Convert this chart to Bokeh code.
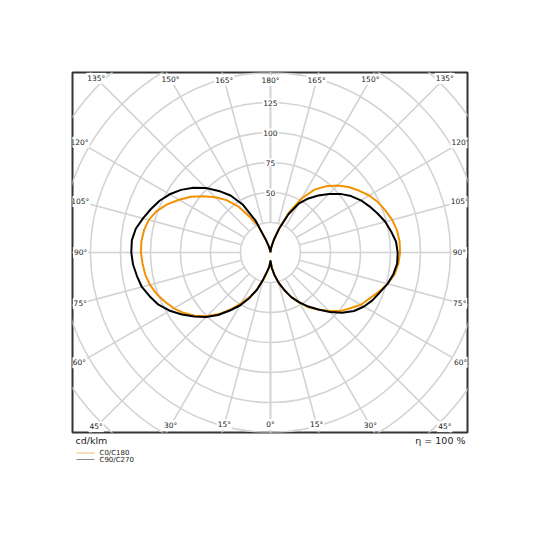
import numpy as np
from bokeh.plotting import figure
from bokeh.models import Range1d
from bokeh.embed import file_html
from bokeh.resources import INLINE
from bokeh.core.properties import value

# ---------------- data ----------------
gamma = [0, 5, 10, 15, 20, 25, 30, 35, 40, 45, 50, 55, 60, 65, 70, 75, 80, 85, 90,
         95, 100, 105, 110, 115, 120, 125, 130, 135, 140, 145, 150, 155, 160, 165, 170, 175, 180]

# C0 (right half of orange curve)
c0 = [7, 13, 19, 26, 33, 41, 48, 56, 62, 69, 76, 81, 87, 91, 96, 101, 105, 107, 108,
      108, 107, 105, 102, 99, 95, 90, 85, 79, 72, 64, 52, 37, 22, 12, 5, 2, 0]
# C180 (left half of orange curve)
c180 = [7, 12, 17, 24, 33, 41, 49, 58, 67, 75, 82, 88, 93, 97, 101, 104, 106, 107, 108,
        108, 107, 105, 101, 95, 88, 81, 73, 65, 57, 47, 34, 25, 12, 5, 2, 1, 0]
# C90 (right half of black curve)
c90 = [7, 13, 19, 26, 33, 41, 48, 55, 62, 70, 78, 85, 90, 94, 97, 101, 104, 106, 106,
       105, 102, 99, 95, 91, 87, 82, 76, 69, 62, 55, 47, 35, 21, 11, 5, 2, 0]
# C270 (left half of black curve)
c270 = [7, 12, 16, 23, 33, 42, 51, 59, 68, 76, 83, 90, 97, 103, 107, 111, 113, 115, 116,
        116, 114, 110, 106, 102, 97, 91, 84, 76, 67, 58, 46, 29, 11, 5, 2, 1, 0]

ring_values = [25, 50, 75, 100, 125, 150, 175, 200]
ring_label_values = [50, 75, 100, 125]
angle_ticks = [0, 15, 30, 45, 60, 75, 90, 105, 120, 135, 150, 165, 180]
series_names = ["C0/C180", "C90/C270"]
series_colors = ["#f39200", "#000000"]
unit_text = "cd/klm"
eta_text = "η = 100 %"

# ---------------- styles ----------------
FONT = value("DejaVu Sans")
GRID = "#d3d3d3"
TXT = "#222222"
PX = 1.2  # pixels per unit (cd/klm)

XL, XR, YB, YT = -165.0, 164.2, -150.0, 150.0

p = figure(width=524, height=524, x_range=Range1d(XL, XR), y_range=Range1d(YB, YT),
           x_axis_type=None, y_axis_type=None, toolbar_location=None,
           output_backend="svg", min_border_left=72, min_border_right=57,
           min_border_top=72, min_border_bottom=92)
p.outline_line_color = "#333333"
p.outline_line_width = 2
p.background_fill_color = "white"
p.border_fill_color = "white"

# rings
p.circle(x=[0] * len(ring_values), y=[0] * len(ring_values), radius=ring_values,
         fill_color=None, line_color=GRID, line_width=1.6)

# rays (both sides) from inner ring outwards
inner = ring_values[0]
outer = 400
g_all = np.radians(np.array(angle_ticks, dtype=float))
x0, y0, x1, y1 = [], [], [], []
for sgn in (1, -1):
    for gg in g_all:
        dx, dy = sgn * np.sin(gg), -np.cos(gg)
        x0.append(inner * dx); y0.append(inner * dy)
        x1.append(outer * dx); y1.append(outer * dy)
p.segment(x0, y0, x1, y1, line_color=GRID, line_width=1.6)

# angle labels placed on each ray just inside the frame
inset = 6.7
lx, ly, lt = [], [], []
for sgn in (1, -1):
    for g_deg in angle_ticks:
        if sgn == -1 and g_deg in (0, 180):
            continue
        gg = np.radians(g_deg)
        dx, dy = sgn * np.sin(gg), -np.cos(gg)
        ts = []
        if dx > 1e-9: ts.append(XR / dx)
        if dx < -1e-9: ts.append(XL / dx)
        if dy > 1e-9: ts.append(YT / dy)
        if dy < -1e-9: ts.append(YB / dy)
        t = min(ts) - inset
        lx.append(t * dx); ly.append(t * dy); lt.append(f"{g_deg}°")
p.text(x=lx, y=ly, text=lt, text_align="center", text_baseline="middle",
       text_font=FONT, text_font_size="7.5px", text_color=TXT,
       background_fill_color="white", padding=1)

# ring labels
p.text(x=[0] * len(ring_label_values), y=ring_label_values,
       text=[str(v) for v in ring_label_values], text_align="center",
       text_baseline="middle", text_font=FONT, text_font_size="7.5px",
       text_color=TXT, background_fill_color="white", padding=1)

# curves
g = np.radians(np.array(gamma, dtype=float))


def curve(left, right):
    L = np.array(left, dtype=float)[::-1]
    R = np.array(right, dtype=float)
    gl = g[::-1]
    xs = np.concatenate([-L * np.sin(gl), R * np.sin(g)])
    ys = np.concatenate([-L * np.cos(gl), -R * np.cos(g)])
    return xs, ys


xo, yo = curve(c180, c0)
xb, yb = curve(c270, c90)
p.line(xo, yo, line_color=series_colors[0], line_width=2, line_join="round")
p.line(xb, yb, line_color=series_colors[1], line_width=2, line_join="round")

# ---------------- below the frame: units, efficiency, legend ----------------
# drawn on the overlay level so that they are not clipped to the frame
row_y = YB - 7.5 / PX          # 7.5 px under the frame
p.text(x=[XL + 3 / PX], y=[row_y], text=[unit_text], text_align="left",
       text_baseline="middle", text_font=FONT, text_font_size="9.5px",
       text_color=TXT, level="overlay")
p.text(x=[XR - 2 / PX], y=[row_y], text=[eta_text], text_align="right",
       text_baseline="middle", text_font=FONT, text_font_size="9.5px",
       text_color=TXT, level="overlay")

leg_line_colors = ["#f7b867", "#8a8a8a"]
for i, (name, col) in enumerate(zip(series_names, leg_line_colors)):
    yy = YB - (20.5 + 6.5 * i) / PX
    xa = XL + 4 / PX
    xb2 = XL + 22 / PX
    p.line([xa, xb2], [yy, yy], line_color=col, line_width=1, level="overlay")
    p.text(x=[XL + 27 / PX], y=[yy], text=[name], text_align="left",
           text_baseline="middle", text_font=FONT, text_font_size="7px",
           text_color=TXT, level="overlay")

open("out.html", "w").write(file_html(p, INLINE))
